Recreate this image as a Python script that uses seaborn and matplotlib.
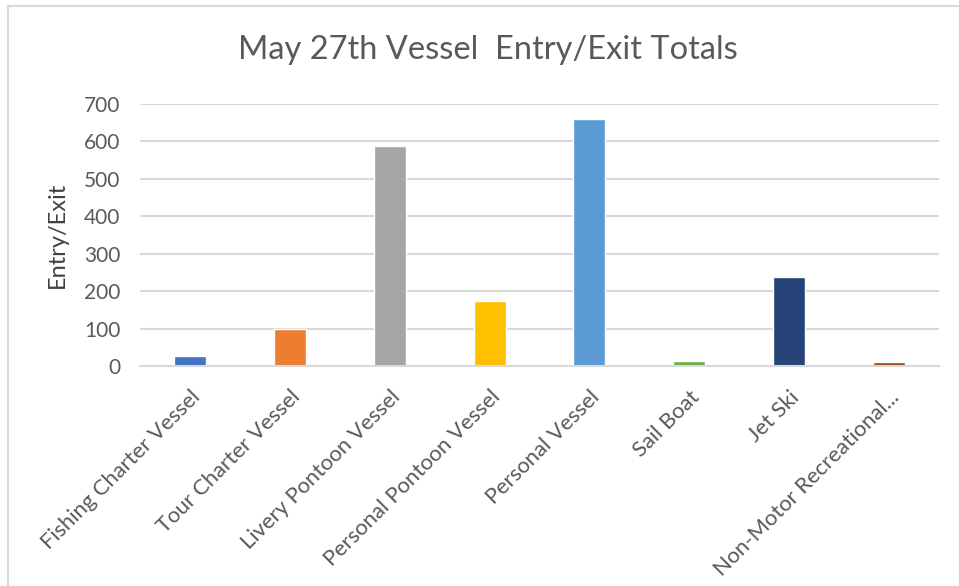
import matplotlib
matplotlib.use('Agg')
import matplotlib.pyplot as plt
import seaborn as sns
import pandas as pd
from matplotlib.lines import Line2D

# Data
vessel_types = ['Fishing Charter Vessel', 'Tour Charter Vessel', 'Livery Pontoon Vessel',
                'Personal Pontoon Vessel', 'Personal Vessel', 'Sail Boat', 'Jet Ski',
                'Non-Motor Recreational...']
entry_exit = [27, 100, 589, 174, 661, 13, 239, 10]
bar_colors = ['#4472C4', '#ED7D31', '#A5A5A5', '#FFC000', '#5B9BD5', '#70AD47', '#264478', '#9E480E']
y_ticks = [0, 100, 200, 300, 400, 500, 600, 700]

df = pd.DataFrame({'Vessel': vessel_types, 'Count': entry_exit})

sns.set_style('white')
plt.rcParams['font.family'] = ['Lato', 'DejaVu Sans']

text_grey = '#595959'
grid_grey = '#D9D9D9'

fig = plt.figure(figsize=(9.59, 5.86), dpi=100)
ax = fig.add_axes([140 / 959, 1 - 366 / 586, 799 / 959, 262 / 586])

sns.barplot(data=df, x='Vessel', y='Count', hue='Vessel', palette=bar_colors,
            width=0.32, legend=False, ax=ax, saturation=1)

ax.set_xlim(-0.5, len(vessel_types) - 0.5)
ax.set_ylim(0, 700)
ax.set_yticks(y_ticks)
ax.set_yticklabels([str(t) for t in y_ticks], fontsize=15, color=text_grey)
ax.set_xticks(range(len(vessel_types)))
ax.set_xticklabels(vessel_types, rotation=45, ha='right', rotation_mode='anchor',
                   fontsize=15.8, color=text_grey)
ax.tick_params(axis='both', length=0)
ax.tick_params(axis='y', pad=14)
ax.tick_params(axis='x', pad=15)

ax.set_axisbelow(True)
ax.yaxis.grid(True, color=grid_grey, linewidth=1.5)
ax.xaxis.grid(False)
for side in ['top', 'right', 'left']:
    ax.spines[side].set_visible(False)
ax.spines['bottom'].set_color(grid_grey)
ax.spines['bottom'].set_linewidth(1.5)

ax.set_xlabel('')
ax.set_ylabel('Entry/Exit', fontsize=17, color='#404040')
ax.yaxis.set_label_coords(-72 / 799, 0.5)

fig.text(488 / 959, 1 - 50 / 586, 'May 27th Vessel  Entry/Exit Totals',
         ha='center', va='center', fontsize=23.5, color=text_grey)

# chart-area border (only top and left visible in the reference crop)
fig.add_artist(Line2D([8 / 959, 8 / 959], [0, 1 - 6 / 586], color=grid_grey, linewidth=1.5))
fig.add_artist(Line2D([8 / 959, 1], [1 - 6 / 586, 1 - 6 / 586], color=grid_grey, linewidth=1.5))

fig.savefig('out.png', dpi=100)
plt.close(fig)
